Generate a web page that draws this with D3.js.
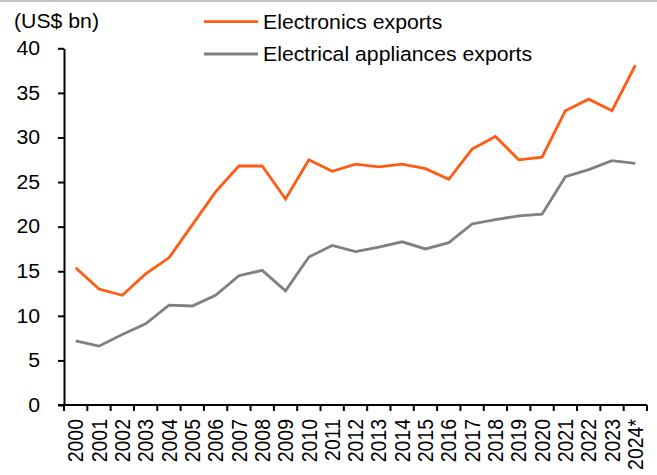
<!DOCTYPE html>
<html>
<head>
<meta charset="utf-8">
<script src="https://cdn.jsdelivr.net/npm/d3@7"></script>
<style>
  html, body { margin: 0; padding: 0; background: #fff; }
  svg { display: block; font-family: "Liberation Sans", Arial, sans-serif; }
</style>
</head>
<body>
<svg id="chart" width="657" height="475"></svg>
<script>
// Annual exports, US$ bn
const years = ["2000","2001","2002","2003","2004","2005","2006","2007","2008","2009",
  "2010","2011","2012","2013","2014","2015","2016","2017","2018","2019",
  "2020","2021","2022","2023","2024*"];
const electronics = [15.4, 13.0, 12.3, 14.7, 16.5, 20.2, 23.9, 26.8, 26.8, 23.1,
  27.5, 26.2, 27.0, 26.7, 27.0, 26.5, 25.3, 28.7, 30.1, 27.5,
  27.8, 33.0, 34.3, 33.0, 38.1];
const appliances = [7.2, 6.6, 7.9, 9.1, 11.2, 11.1, 12.3, 14.5, 15.1, 12.8,
  16.6, 17.9, 17.2, 17.7, 18.3, 17.5, 18.2, 20.3, 20.8, 21.2,
  21.4, 25.6, 26.4, 27.4, 27.1];
const yTicks = [0, 5, 10, 15, 20, 25, 30, 35, 40];
const seriesNames = ["Electronics exports", "Electrical appliances exports"];
const seriesColors = ["#FF5B12", "#808080"];

const svg = d3.select("#chart");
const plotLeft = 64, plotRight = 647, plotTop = 48.3, plotBottom = 405;
const fontSize = 19.5, wide = 1.09;   // text is set slightly wide

// thin grey rule along the top edge
svg.append("rect").attr("x", 0).attr("y", 0).attr("width", 657).attr("height", 2)
  .attr("fill", "#C3C3C3");

const x = d3.scaleBand().domain(years).range([plotLeft, plotRight]).padding(0);
const y = d3.scaleLinear().domain([0, 40]).range([plotBottom, plotTop]);

// y axis
const yAxis = svg.append("g").attr("transform", `translate(${plotLeft},0)`)
  .call(d3.axisLeft(y).tickValues(yTicks).tickSize(6).tickPadding(16).tickSizeOuter(0));
yAxis.select(".domain").attr("stroke", "#000").attr("stroke-width", 2);
yAxis.selectAll(".tick line").attr("stroke", "#000").attr("stroke-width", 2);
yAxis.selectAll(".tick text").attr("font-size", fontSize).attr("fill", "#000")
  .attr("font-family", "Liberation Sans, Arial, sans-serif")
  .attr("transform", `scale(${wide},1)`);

// x axis: ticks sit on category boundaries
const xAxisG = svg.append("g").attr("transform", `translate(0,${plotBottom})`);
xAxisG.append("line").attr("x1", plotLeft - 6).attr("x2", plotRight).attr("y1", 0).attr("y2", 0)
  .attr("stroke", "#000").attr("stroke-width", 2);
const boundaries = years.map(d => x(d)).concat([x(years[years.length - 1]) + x.bandwidth()]);
xAxisG.selectAll("line.tk").data(boundaries).join("line").attr("class", "tk")
  .attr("x1", d => d).attr("x2", d => d).attr("y1", 0).attr("y2", 6)
  .attr("stroke", "#000").attr("stroke-width", 2);
xAxisG.selectAll("text").data(years).join("text")
  .attr("transform", d => `translate(${x(d) + x.bandwidth() / 2},14) rotate(-90) scale(1,${wide})`)
  .attr("text-anchor", "end").attr("dy", "0.36em")
  .attr("font-size", fontSize).attr("fill", "#000").text(d => d);

// unit label
svg.append("text").attr("transform", `translate(14,28) scale(${wide},1)`)
  .attr("font-size", fontSize).attr("fill", "#000").text("(US$ bn)");

// lines
const line = d3.line().x((d, i) => x(years[i]) + x.bandwidth() / 2).y(d => y(d));
[electronics, appliances].forEach((s, k) => {
  svg.append("path").datum(s).attr("d", line).attr("fill", "none")
    .attr("stroke", seriesColors[k]).attr("stroke-width", 2.8)
    .attr("stroke-linejoin", "miter");
});

// legend
const legend = svg.append("g");
seriesNames.forEach((name, k) => {
  const ly = 21.7 + k * 32.3;
  legend.append("line").attr("x1", 204).attr("x2", 258).attr("y1", ly).attr("y2", ly)
    .attr("stroke", seriesColors[k]).attr("stroke-width", 2.8);
  legend.append("text").attr("transform", `translate(263,${ly + 7}) scale(${wide},1)`)
    .attr("font-size", fontSize).attr("fill", "#000").text(name);
});
</script>
</body>
</html>
